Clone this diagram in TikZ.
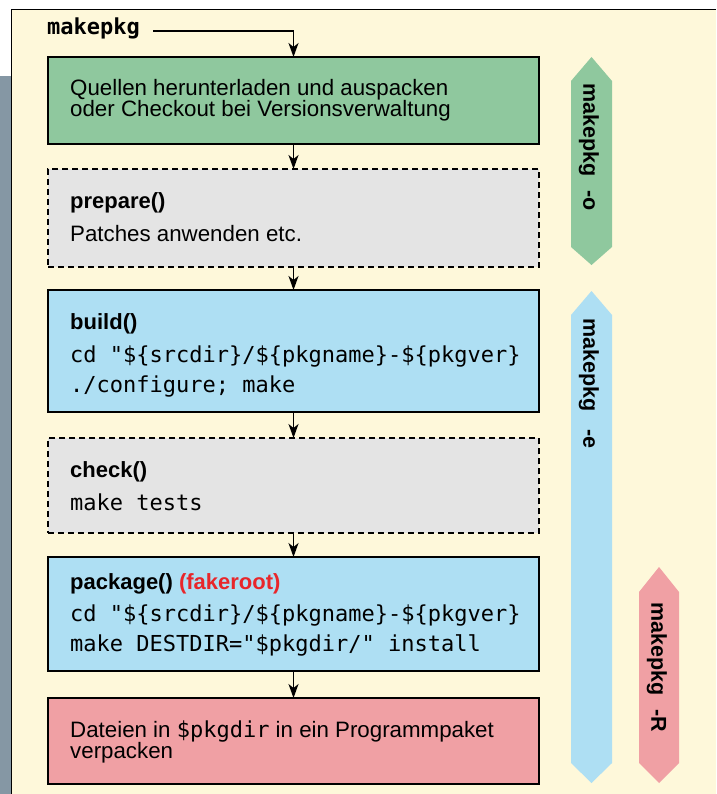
\documentclass[tikz,border=0pt]{standalone}
\usepackage{fontspec}
\setmainfont{Liberation Sans}
\newfontfamily\mono{DejaVu Sans Mono}
\usetikzlibrary{arrows.meta}
\definecolor{cream}{HTML}{FEF8DA}
\definecolor{slate}{HTML}{8597A4}
\definecolor{boxgreen}{HTML}{8FC89E}
\definecolor{boxgray}{HTML}{E4E4E4}
\definecolor{boxblue}{HTML}{AEDFF3}
\definecolor{boxred}{HTML}{F0A0A4}
\definecolor{fakered}{HTML}{E8262A}
\begin{document}
\begin{tikzpicture}[x=1pt,y=-1pt,
  stepbox/.style={draw=black, line width=1.8pt, minimum width=491pt, inner sep=0pt, outer sep=0pt},
  optbox/.style={stepbox, dash pattern=on 6pt off 4pt},
  flow/.style={-{Stealth[length=14pt,width=10pt,inset=4pt]}, line width=1.5pt},
  sanstxt/.style={anchor=base west, inner sep=0pt, font=\fontsize{22.3}{21}\selectfont},
  monotxt/.style={anchor=base west, inner sep=0pt, font=\mono\fontsize{22}{21}\selectfont},
  titletxt/.style={anchor=base west, inner sep=0pt, font=\bfseries\fontsize{22}{21}\selectfont},
  hexlabel/.style={rotate=-90, anchor=west, inner sep=0pt, font=\bfseries\fontsize{21.5}{21}\selectfont}
]
\useasboundingbox (0,0) rectangle (716,794);
\fill[white] (0,0) rectangle (716,794);
% side strip and panel
\fill[slate] (0,76) rectangle (11,794);
\fill[cream] (11,10) rectangle (716,794);
\draw[line width=1pt] (11,794) -- (11,10) -- (716,10);

% boxes
\node[stepbox, fill=boxgreen, minimum height=87pt] (src) at (293.5,100.5) {};
\node[optbox, fill=boxgray, minimum height=98pt] (prep) at (293.5,218) {};
\node[stepbox, fill=boxblue, minimum height=122pt] (build) at (293.5,351) {};
\node[optbox, fill=boxgray, minimum height=95pt] (check) at (293.5,485.5) {};
\node[stepbox, fill=boxblue, minimum height=114pt] (pkg) at (293.5,614) {};
\node[stepbox, fill=boxred, minimum height=86pt] (pack) at (293.5,741) {};

% start label and arrows
\node[anchor=base west, inner sep=0pt, font=\mono\bfseries\fontsize{22}{21}\selectfont] (mk) at (47,35) {makepkg};
\coordinate (mkstart) at (153,31);
\draw[flow] (mkstart) -| (src.north);
\draw[flow] (src.south) -- (prep.north);
\draw[flow] (prep.south) -- (build.north);
\draw[flow] (build.south) -- (check.north);
\draw[flow] (check.south) -- (pkg.north);
\draw[flow] (pkg.south) -- (pack.north);

% texts
\node[sanstxt] (t1a) at (70,96) {Quellen herunterladen und auspacken};
\node[sanstxt] (t1b) at (70,117) {oder Checkout bei Versionsverwaltung};

\node[titletxt] (t2a) at (70,208) {prepare()};
\node[sanstxt] (t2b) at (70,241) {Patches anwenden etc.};

\node[titletxt] (t3a) at (70,329) {build()};
\node[monotxt] (t3b) at (70,362) {cd "\$\{srcdir\}/\$\{pkgname\}-\$\{pkgver\}};
\node[monotxt] (t3c) at (70,392) {./configure; make};

\node[titletxt] (t4a) at (70,477) {check()};
\node[monotxt] (t4b) at (70,510) {make tests};

\node[titletxt] (t5a) at (70,589) {package() {\color{fakered}(fakeroot)}};
\node[monotxt] (t5b) at (70,621) {cd "\$\{srcdir\}/\$\{pkgname\}-\$\{pkgver\}};
\node[monotxt] (t5c) at (70,651) {make DESTDIR="\$pkgdir/" install};

\node[sanstxt] (t6a) at (70,737) {Dateien in {\mono\fontsize{22}{21}\selectfont\$pkgdir} in ein Programmpaket};
\node[sanstxt] (t6b) at (70,758) {verpacken};

% side range markers
\fill[boxgreen] (591.5,57) -- (612,81) -- (612,247) -- (591.5,265) -- (571,247) -- (571,81) -- cycle;
\fill[boxblue] (591.5,291) -- (612,315) -- (612,763) -- (591.5,783) -- (571,763) -- (571,315) -- cycle;
\fill[boxred] (659,567) -- (679,592) -- (679,763) -- (659,783) -- (639,763) -- (639,592) -- cycle;

\node[hexlabel] (lo) at (589,83) {makepkg\hspace{14pt}-o};
\node[hexlabel] (le) at (589,318) {makepkg\hspace{18pt}-e};
\node[hexlabel] (lr) at (657,602) {makepkg\hspace{14pt}-R};
\end{tikzpicture}
\end{document}
